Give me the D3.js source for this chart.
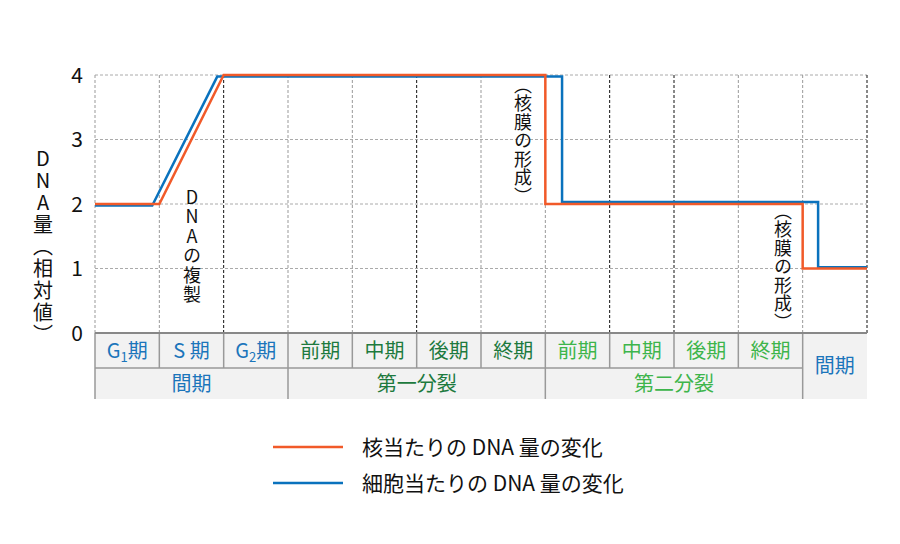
<!DOCTYPE html>
<html>
<head>
<meta charset="utf-8">
<script src="https://cdn.jsdelivr.net/npm/d3@7"></script>
<style>
  body { margin: 0; background: #fff; }
  svg text { font-family: "Noto Sans CJK JP", "Noto Sans", sans-serif; }
</style>
</head>
<body>
<svg id="chart" width="900" height="544"></svg>
<script>
// phases along the x axis (one column each)
const phases = ['G1期', 'S 期', 'G2期', '前期', '中期', '後期', '終期', '前期', '中期', '後期', '終期', '間期'];
const phaseGroup = ['inter', 'inter', 'inter', 'm1', 'm1', 'm1', 'm1', 'm2', 'm2', 'm2', 'm2', 'inter'];
const groups = [
    { name: '間期', from: 0, to: 3, kind: 'inter' },
    { name: '第一分裂', from: 3, to: 7, kind: 'm1' },
    { name: '第二分裂', from: 7, to: 11, kind: 'm2' }
];
const yTicks = [0, 1, 2, 3, 4];

// DNA amount per nucleus  [column position, relative value]
const nucleusX = [0, 1, 2, 7, 7, 11, 11, 12];
const nucleusY = [2, 2, 4, 4, 2, 2, 1, 1];
// DNA amount per cell
const cellX = [0, 0.89, 1.9, 7.26, 7.26, 11.24, 11.24, 12];
const cellY = [1.975, 1.975, 3.975, 3.975, 2.03, 2.03, 1.02, 1.02];

// which vertical grid lines are drawn black
const darkLines = [2, 5, 8, 9, 12];

const colors = { inter: '#1b75bb', m1: '#1d7a3e', m2: '#3db54b' };
const orange = '#f15a29';
const blue = '#0a72bd';

const mLeft = 95, mRight = 867, mTop = 75, mBottom = 333;
const rowH = 35, row2H = 31;

const svg = d3.select('#chart');
const x = d3.scaleLinear().domain([0, 12]).range([mLeft, mRight]);
const y = d3.scaleLinear().domain([0, 4]).range([mBottom, mTop]);

// grid
svg.append('g').selectAll('line').data(yTicks.filter(d => d > 0)).enter().append('line')
    .attr('x1', mLeft).attr('x2', mRight).attr('y1', d => y(d)).attr('y2', d => y(d))
    .attr('stroke', '#aaa').attr('stroke-width', 1).attr('stroke-dasharray', '3,2');

svg.append('g').selectAll('line').data(d3.range(0, 13)).enter().append('line')
    .attr('x1', d => x(d)).attr('x2', d => x(d)).attr('y1', mTop).attr('y2', mBottom)
    .attr('stroke', d => darkLines.includes(d) ? '#111' : '#999')
    .attr('stroke-width', 1).attr('stroke-dasharray', '3,2');

// y tick labels
svg.append('g').selectAll('text').data(yTicks).enter().append('text')
    .attr('x', 83).attr('y', d => y(d)).attr('dy', '0.36em')
    .attr('text-anchor', 'end').attr('font-size', 21).attr('fill', '#111')
    .text(d => d);

// vertical labels
function vtext(str, cx, y0, size, spacing) {
    svg.append('text')
        .attr('x', cx).attr('y', y0)
        .attr('font-size', size).attr('fill', '#111')
        .attr('letter-spacing', spacing)
        .style('writing-mode', 'vertical-rl')
        .style('text-orientation', 'upright')
        .text(str);
}
vtext('DNA量（相対値）', 43, 148, 20, 2);
vtext('DNAの複製', 192, 188, 18, 1.5);
vtext('（核膜の形成）', 523, 76, 18, 0.5);
vtext('（核膜の形成）', 783, 202, 18, 0.5);

// table under the axis
const table = svg.append('g');
table.append('rect').attr('x', mLeft).attr('y', mBottom).attr('width', mRight - mLeft)
    .attr('height', rowH + row2H).attr('fill', '#f2f2f2');

const cell = table.selectAll('g.cell').data(phases).enter().append('g').attr('class', 'cell');
cell.append('text')
    .attr('x', (d, i) => (x(i) + x(i + 1)) / 2)
    .attr('y', (d, i) => i === 11 ? mBottom + (rowH + row2H) / 2 : mBottom + rowH / 2)
    .attr('dy', '0.36em').attr('text-anchor', 'middle').attr('font-size', 20)
    .attr('fill', (d, i) => colors[phaseGroup[i]])
    .each(function (d) {
        const t = d3.select(this);
        const m = d.match(/^G(\d)(.*)$/);
        if (m) {
            t.append('tspan').text('G');
            t.append('tspan').attr('font-size', 13).attr('dy', 4).text(m[1]);
            t.append('tspan').attr('dy', -4).text(m[2]);
        } else {
            t.text(d);
        }
    });

table.selectAll('text.group').data(groups).enter().append('text')
    .attr('class', 'group')
    .attr('x', d => (x(d.from) + x(d.to)) / 2)
    .attr('y', mBottom + rowH + row2H / 2).attr('dy', '0.36em')
    .attr('text-anchor', 'middle').attr('font-size', 20)
    .attr('fill', d => colors[d.kind]).text(d => d.name);

// table borders
table.selectAll('line.v1').data(d3.range(0, 12)).enter().append('line')
    .attr('x1', d => x(d)).attr('x2', d => x(d))
    .attr('y1', mBottom).attr('y2', d => (d === 0 || d === 3 || d === 7 || d === 11) ? mBottom + rowH + row2H : mBottom + rowH)
    .attr('stroke', '#999').attr('stroke-width', 1.5);
table.append('line').attr('x1', mLeft).attr('x2', x(11))
    .attr('y1', mBottom + rowH).attr('y2', mBottom + rowH)
    .attr('stroke', '#999').attr('stroke-width', 1.5);
table.append('line').attr('x1', mLeft).attr('x2', mRight)
    .attr('y1', mBottom).attr('y2', mBottom)
    .attr('stroke', '#888').attr('stroke-width', 2);

// data lines
const line = d3.line().x(d => x(d[0])).y(d => y(d[1]));
svg.append('path').datum(d3.zip(cellX, cellY)).attr('d', line)
    .attr('fill', 'none').attr('stroke', blue).attr('stroke-width', 2.5);
svg.append('path').datum(d3.zip(nucleusX, nucleusY)).attr('d', line)
    .attr('fill', 'none').attr('stroke', orange).attr('stroke-width', 2.5);

// legend
const legend = [
    { label: '核当たりの DNA 量の変化', color: orange },
    { label: '細胞当たりの DNA 量の変化', color: blue }
];
const lg = svg.append('g').selectAll('g').data(legend).enter().append('g')
    .attr('transform', (d, i) => `translate(273, ${447 + i * 36})`);
lg.append('line').attr('x1', 0).attr('x2', 70).attr('stroke', d => d.color).attr('stroke-width', 2.5);
lg.append('text').attr('x', 89).attr('dy', '0.36em').attr('font-size', 21).attr('fill', '#111')
    .text(d => d.label);
</script>
</body>
</html>
